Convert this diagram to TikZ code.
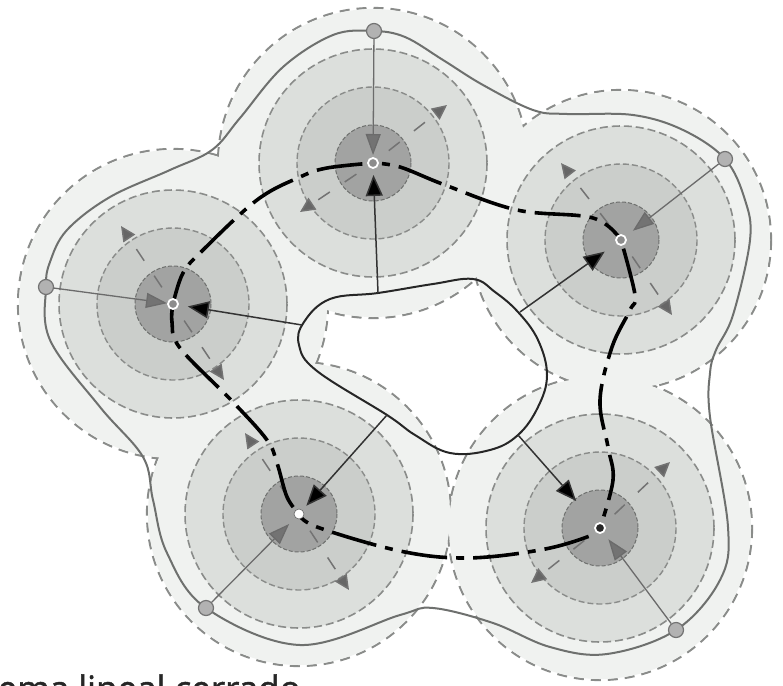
\documentclass[tikz,border=0pt]{standalone}
\usepackage{fontspec}
\setmainfont{Open Sans}
\newfontfamily\capfont[RawFeature={embolden=1.3}]{Open Sans}
\usetikzlibrary{arrows.meta}
\definecolor{zoneA}{HTML}{F0F2F0}
\definecolor{zoneB}{HTML}{DCDFDC}
\definecolor{zoneC}{HTML}{CBCECB}
\definecolor{zoneD}{HTML}{A2A3A2}
\definecolor{ringline}{HTML}{8A8C8A}
\definecolor{curveline}{HTML}{6E706E}
\tikzset{
  x=1pt,y=-1pt,
  outerdash/.style={draw=ringline,line width=2.2pt,dash pattern=on 10pt off 7pt},
  ringB/.style={fill=zoneB,draw=ringline,line width=1.6pt,dash pattern=on 8pt off 4pt},
  ringC/.style={fill=zoneC,draw=ringline,line width=1.4pt,dash pattern=on 6pt off 3pt},
  ringD/.style={fill=zoneD,draw=ringline!80!black,line width=1pt,dash pattern=on 4pt off 2pt},
  rim/.style={draw=curveline,line width=2pt},
  holeedge/.style={draw=black!85,line width=2pt},
  limitpt/.style={circle,fill=black!30,draw=black!55,line width=1.2pt,minimum size=15pt,inner sep=0pt},
  grayarrow/.style={draw=black!58,line width=1.3pt,-{Triangle[length=21pt,width=15pt,fill=black!55]}},
  blackarrow/.style={draw=black!80,line width=1.5pt,-{Triangle[length=21pt,width=17pt,fill=black]}},
  axisdash/.style={draw=black!55,line width=1.5pt,dash pattern=on 0pt off 20pt on 14pt off 18pt on 14pt off 40pt,
     -{Triangle[length=15pt,width=14pt,fill=black!60]}},
  trajectory/.style={draw=black,line width=3.6pt,dash pattern=on 46pt off 9pt on 8pt off 9pt},
  eqpoint/.style={circle,fill=black!45,draw=white,line width=1.8pt,minimum size=10pt,inner sep=0pt},
  caption/.style={font=\capfont\fontsize{35}{35}\selectfont,text=black!85,inner sep=0pt,anchor=base east}
}
\begin{document}
\begin{tikzpicture}
\useasboundingbox (0,0) rectangle (783,685);
\fill[white] (0,0) rectangle (783,685);
% centres
\coordinate (cT) at (373,163);
\coordinate (cR) at (621,240);
\coordinate (cS) at (600,528);
\coordinate (cW) at (299,514);
\coordinate (cL) at (173,304);
% outer dashed union outline
\foreach \c/\r in {cT/155,cR/150,cS/152,cW/152,cL/155}
  \draw[outerdash] (\c) circle[radius=\r];
\foreach \c/\r in {cT/155,cR/150,cS/152,cW/152,cL/155}
  \fill[zoneA] (\c) circle[radius=\r-1];
% rings
\foreach \c in {cT,cR,cS,cW,cL}{
  \path[ringB] (\c) circle[radius=114];
  \path[ringC] (\c) circle[radius=76];
  \path[ringD] (\c) circle[radius=38];
}
% axes with triangles
\coordinate (aT1) at (447,105); \coordinate (aT2) at (300,212);
\coordinate (aR1) at (561,163); \coordinate (aR2) at (672,315);
\coordinate (aS1) at (670,462); \coordinate (aS2) at (531,583);
\coordinate (aW1) at (245,433); \coordinate (aW2) at (349,590);
\coordinate (aL1) at (121,226); \coordinate (aL2) at (224,380);
\foreach \a/\b in {cT/aT1,cT/aT2,cR/aR1,cR/aR2,cS/aS1,cS/aS2,cW/aW1,cW/aW2,cL/aL1,cL/aL2}
  \draw[axisdash] (\a) -- (\b);
% hole
\coordinate (hT) at (378,293);
\coordinate (hL) at (302,325);
\coordinate (hW) at (387,415);
\coordinate (hS) at (518,435);
\coordinate (hR) at (520,312);
\path[holeedge] plot[smooth cycle,tension=.65] coordinates {
 (378,293) (330,299) (304,322) (299,345) (317,371) (387,415) (415,435) (450,453) (490,450) (518,435) (538,407) (547,375) (538,340) (518,312) (495,292) (473,279) (433,284)};
% outer limit curve
\draw[rim] plot[smooth cycle,tension=.6] coordinates {
 (373,31) (405,37) (443,60) (483,85) (533,110) (567,114) (633,115) (683,130) (725,159) (745,200) (750,240) (733,315) (716,350) (710,373) (710,417) (728,527) (720,580) (676,630) (607,654) (550,647) (493,623) (433,608) (400,615) (300,645) (206,608) (167,553) (153,500) (143,457) (100,407) (50,340) (46,287) (50,262) (67,230) (110,197) (170,170) (212,150) (240,118) (283,67) (333,35)};
% arrows
\node[limitpt] (pT) at (374,31) {};
\node[limitpt] (pR) at (725,159) {};
\node[limitpt] (pS) at (676,630) {};
\node[limitpt] (pW) at (206,608) {};
\node[limitpt] (pL) at (46,287) {};
\draw[grayarrow,shorten >=8pt] (pT) -- (cT);
\draw[grayarrow,shorten >=15pt] (pR) -- (cR);
\draw[grayarrow,shorten >=14pt] (pS) -- (cS);
\draw[grayarrow,shorten >=14pt] (pW) -- (cW);
\draw[grayarrow,shorten >=6pt] (pL) -- (cL);
\draw[blackarrow,shorten >=12pt] (hT) -- (cT);
\draw[blackarrow,shorten >=15pt] (hL) -- (cL);
\draw[blackarrow,shorten >=20pt] (hR) -- (cR);
\draw[blackarrow,shorten >=11pt] (hW) -- (cW);
\draw[blackarrow,shorten >=36pt] (hS) -- (cS);
% trajectory
\draw[trajectory,dash phase=46pt] plot[smooth,tension=.6] coordinates {(373,163) (400,167) (445,185) (517,210) (593,218) (621,240)};
\draw[trajectory,dash phase=63pt] plot[smooth,tension=.6] coordinates {(621,240) (635,295) (630,310) (612,347) (600,400) (608,447) (613,480) (600,528)};
\draw[trajectory,dash phase=63pt,shorten <=6pt] plot[smooth,tension=.6] coordinates {(600,528) (587,537) (540,550) (467,558) (400,551) (317,527) (299,514)};
\draw[trajectory,dash phase=63pt] plot[smooth,tension=.6] coordinates {(299,514) (287,497) (277,463) (267,440) (233,402) (180,348) (172,322) (173,304)};
\draw[trajectory,dash phase=12pt] plot[smooth,tension=.6] coordinates {(173,304) (183,273) (203,250) (257,200) (300,177) (327,168) (373,163)};
% equilibrium points
\node[eqpoint] (eT) at (cT) {};
\node[eqpoint] (eR) at (cR) {};
\node[eqpoint,fill=black!85] (eS) at (cS) {};
\node[eqpoint,fill=white,draw=black!60,line width=.6pt] (eW) at (cW) {};
\node[eqpoint] (eL) at (cL) {};
\node[caption] (cap) at (301,701) {ema lineal cerrado};
\end{tikzpicture}
\end{document}
